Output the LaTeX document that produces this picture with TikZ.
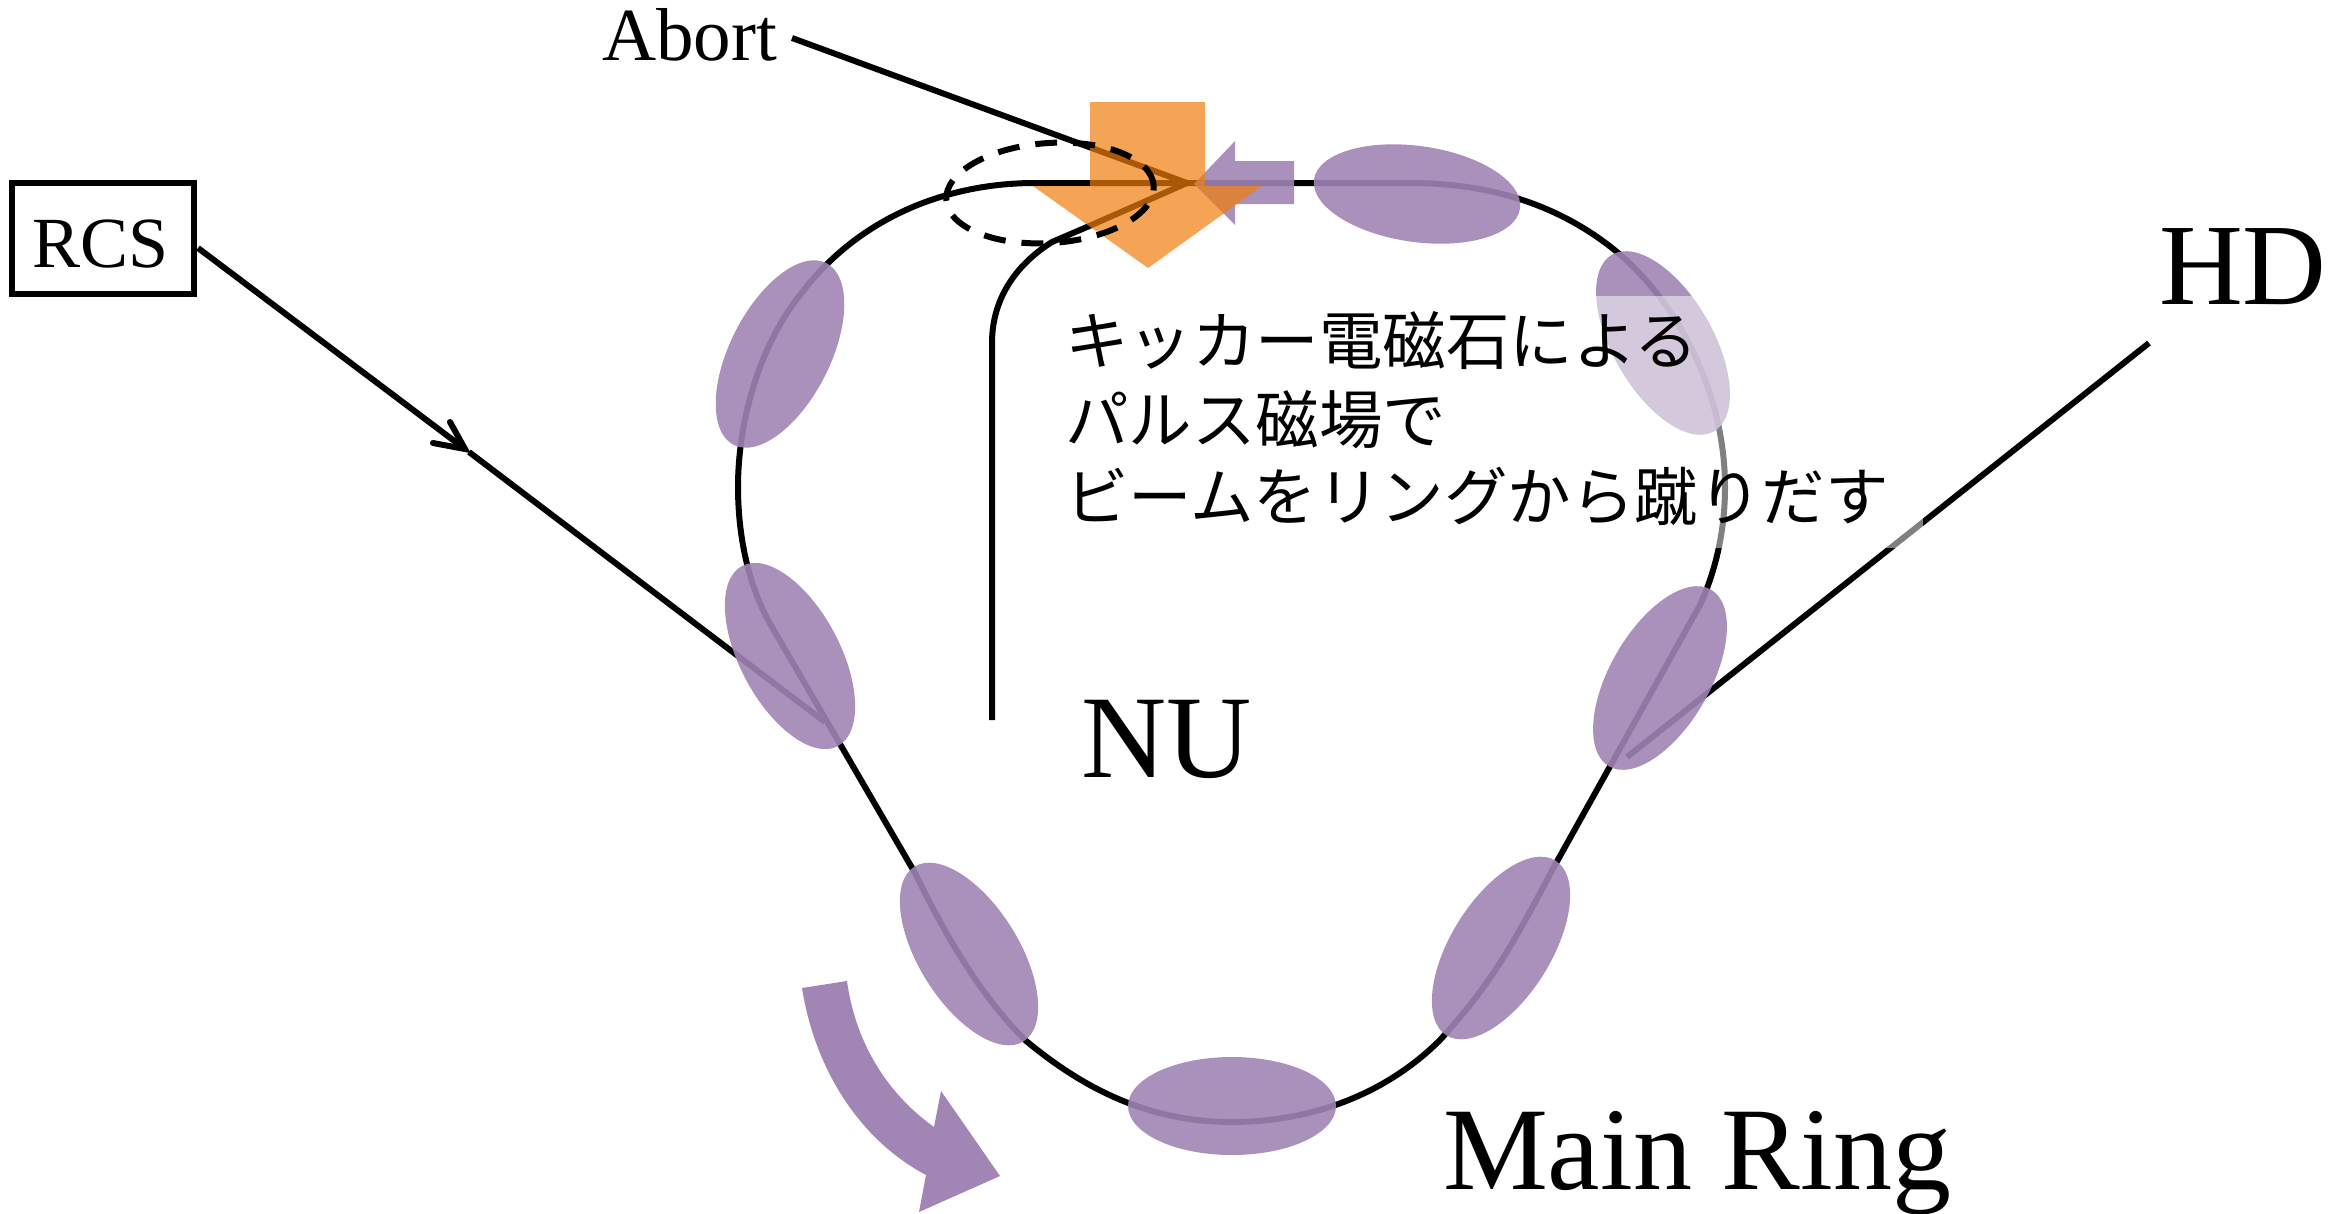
\documentclass[tikz,border=0pt]{standalone}
\usepackage{fontspec}
\setmainfont{Liberation Serif}
\newfontfamily\jpfont{Noto Sans CJK JP}
\usetikzlibrary{calc}
\definecolor{bead}{HTML}{A085B5}
\definecolor{kick}{HTML}{F07E0B}
\tikzset{
  x=1pt,y=-1pt,
  beam/.style={draw=black,line width=6pt},
  bunch/.style={fill=bead,fill opacity=.9},
  orangekick/.style={fill=kick,fill opacity=.7},
  purplekick/.style={fill=bead,fill opacity=.9},
  lbl/.style={anchor=base west,inner sep=0pt,outer sep=0pt,text=black},
}
\newcommand{\bunchat}[3]{\fill[bunch,shift={(#1)},rotate=#3] (0,0) ellipse [x radius=#2];}
\begin{document}
\begin{tikzpicture}
\useasboundingbox (0,0) rectangle (2351,1213);
% named coordinates
\coordinate (abortstart) at (792,38);
\coordinate (junction) at (1187,183);
\coordinate (rcsout) at (198,248);
\coordinate (rcstip) at (465,449);
\coordinate (rcsres) at (469,452);
\coordinate (rcsjoin) at (825,722);
\coordinate (hdend) at (2149,343);
\coordinate (hdjoin) at (1627,757);
% ring
\draw[beam,line join=round] (junction) -- (1410,183)
  .. controls (1490,183) and (1560,205) .. (1617,252)
  .. controls (1680,305) and (1725,395) .. (1725,487)
  .. controls (1725,530) and (1716,570) .. (1700,605)
  -- (1555,865)
  .. controls (1510,950) and (1490,985) .. (1440,1040)
  .. controls (1385,1095) and (1310,1122) .. (1232,1122)
  .. controls (1150,1122) and (1085,1090) .. (1025,1040)
  .. controls (985,1000) and (950,945) .. (915,873)
  -- (772,627)
  .. controls (750,590) and (738,540) .. (738,487)
  .. controls (738,420) and (760,345) .. (800,295)
  .. controls (860,215) and (950,183) .. (1035,183)
  -- (junction);
% beam lines
\draw[beam] (abortstart) -- (junction);
\draw[beam] (rcsout) -- (rcstip);
\draw[beam,line cap=round] (450,422) -- (rcstip) -- (433,443);
\draw[beam] (rcsres) -- (rcsjoin);
\draw[beam] (hdend) -- (hdjoin);
\draw[beam] (992,720) -- (992,343) .. controls (992,295) and (1020,262) .. (1052,242) -- (1087,227) -- (junction);
% bunches
\bunchat{1417,194}{104pt,y radius=48pt}{-8}
\bunchat{1663,343}{102pt,y radius=50pt}{-60}
\bunchat{1660,678}{102pt,y radius=50pt}{60}
\bunchat{1501,948}{103pt,y radius=50pt}{58}
\bunchat{1232,1106}{104pt,y radius=49pt}{0}
\bunchat{969,954}{103pt,y radius=50pt}{-58}
\bunchat{790,656}{102pt,y radius=50pt}{-62}
\bunchat{780,354}{102pt,y radius=50pt}{63}
% kicker arrows
\fill[purplekick] (1194,184) -- (1235,141) -- (1235,161) -- (1294,161) -- (1294,204) -- (1235,204) -- (1235,225) -- cycle;
\fill[orangekick] (1090,102) -- (1205,102) -- (1205,186) -- (1262,186) -- (1148,268) -- (1033,186) -- (1090,186) -- cycle;
% dashed ellipse
\draw[line width=6pt,dash pattern=on 22pt off 16pt,shift={(1050,193)},rotate=4] (0,0) ellipse [x radius=104pt,y radius=50pt];
% circulating arrow
\fill[fill=bead] (802,988) -- (847,981)
  .. controls (855,1040) and (885,1092) .. (934,1127)
  -- (941,1091) -- (1000,1176) -- (919,1212) -- (926,1175)
  .. controls (860,1140) and (815,1070) .. (802,988) -- cycle;
% white veil
\fill[white,fill opacity=.5] (1060,296) rectangle (1923,548);
% RCS box
\node[draw=black,line width=6pt,minimum width=182pt,minimum height=111pt,inner sep=0pt] (rcsbox) at (103,238.5) {};
\node[lbl,font=\fontsize{72}{72}\selectfont] (rcs) at (32,267) {RCS};
\node[lbl,font=\fontsize{75}{75}\selectfont] (abort) at (602,60) {Abort};
\node[lbl,font=\fontsize{116}{116}\selectfont] (hd) at (2159,304) {HD};
\node[lbl,font=\fontsize{118}{118}\selectfont] (nu) at (1081,777) {NU};
\node[lbl,font=\fontsize{118}{118}\selectfont] (mainring) at (1443,1189) {Main Ring};
\node[lbl,font=\jpfont\fontsize{63.5}{63.5}\selectfont] (jp1) at (1065,364) {キッカー電磁石による};
\node[lbl,font=\jpfont\fontsize{63.5}{63.5}\selectfont] (jp2) at (1065,443) {パルス磁場で};
\node[lbl,font=\jpfont\fontsize{63.5}{63.5}\selectfont] (jp3) at (1065,520) {ビームをリングから蹴りだす};
\end{tikzpicture}
\end{document}
